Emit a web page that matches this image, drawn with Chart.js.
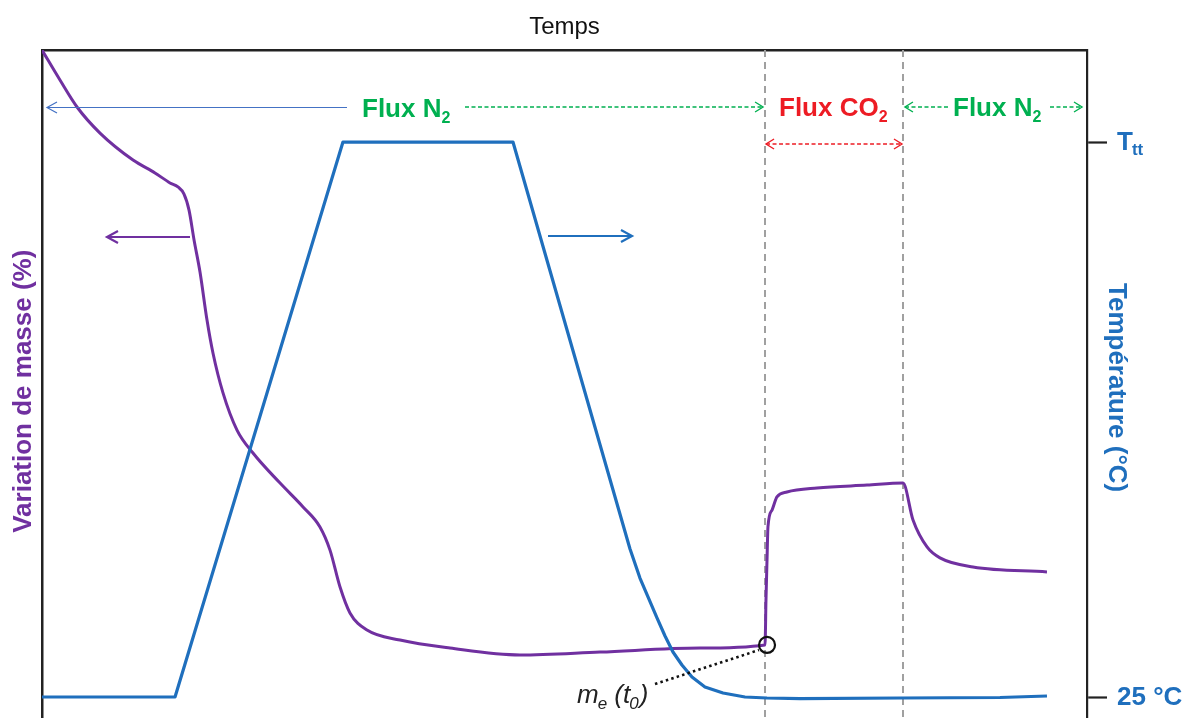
<!DOCTYPE html>
<html><head><meta charset="utf-8">
<script src="https://cdn.jsdelivr.net/npm/chart.js@4.4.1/dist/chart.umd.min.js"></script>
<style>html,body{margin:0;padding:0;background:#fff}#wrap{width:1184px;height:718px}</style>
</head><body><div id="wrap"><canvas id="c" width="1184" height="718"></canvas></div>
<script>
// ---- data (time in arbitrary units 0..100) ----
const massTime = [0, 1.72, 3.35, 5.55, 8.71, 10.81, 12.25, 13.01, 13.59, 14.07, 14.55, 15.12, 15.79, 16.36, 17.32, 18.66, 20.19, 22.78, 24.98, 26.60, 27.56, 28.52, 29.47, 31.10, 34.26, 39.04, 45.74, 53.40, 62.97, 69.19, 69.28, 69.38, 69.47, 69.86, 70.33, 71.29, 74.16, 78.95, 82.39, 83.35, 84.69, 85.93, 89.09, 96.17];
const massValues = [0, -1.35, -2.56, -3.73, -4.94, -5.52, -5.97, -6.15, -6.47, -7.19, -8.53, -9.97, -12.13, -13.61, -15.40, -17.07, -18.10, -19.45, -20.52, -21.42, -22.46, -24.12, -25.28, -26.05, -26.50, -26.86, -27.17, -27.04, -26.86, -26.72, -24.70, -22.90, -21.42, -20.66, -20.07, -19.85, -19.67, -19.54, -19.45, -21.11, -22.32, -22.81, -23.22, -23.44];
const tempTime = [0, 12.73, 28.80, 45.07, 56.27, 57.22, 57.99, 58.85, 59.62, 60.38, 61.24, 62.20, 63.44, 65.17, 67.27, 69.38, 72.54, 82.11, 91.67, 96.17];
const tempValues = [25, 25, 900, 900, 258.3, 212.6, 182.7, 149.6, 121.2, 95.9, 75.5, 56.5, 40.8, 31.3, 25, 23.4, 22.6, 23.4, 24.2, 26.6];
const tempTicks = [25, 900];
const tempTickMain = ['25 °C', 'T'];
const tempTickSub = ['', 'tt'];
const phaseBounds = [69.19, 82.39];
const markerTime = [69.38];
const markerMass = [-26.72];

const PURPLE = '#7030A0', BLUE = '#1F6FBD', GREEN = '#00B050', RED = '#ED1C24';
const FONT = "'Liberation Sans', Arial, sans-serif";

function txt(ctx, s, x, y, size, color, bold, italic) {
  ctx.font = (italic ? 'italic ' : '') + (bold ? 'bold ' : '') + size + 'px ' + FONT;
  ctx.fillStyle = color; ctx.textAlign = 'left'; ctx.textBaseline = 'alphabetic';
  ctx.fillText(s, x, y);
  return ctx.measureText(s).width;
}
function head(ctx, x, y, dir, len, half) {
  ctx.beginPath();
  ctx.moveTo(x - dir * len, y - half); ctx.lineTo(x, y); ctx.lineTo(x - dir * len, y + half);
  ctx.stroke();
}
function hArrow(ctx, x1, x2, y, color, lw, dash, startHead, endHead, len, half) {
  ctx.save();
  ctx.strokeStyle = color; ctx.lineWidth = lw;
  ctx.setLineDash(dash);
  ctx.beginPath(); ctx.moveTo(x1, y); ctx.lineTo(x2, y); ctx.stroke();
  ctx.setLineDash([]);
  const dir = x2 > x1 ? 1 : -1;
  if (endHead) head(ctx, x2, y, dir, len, half);
  if (startHead) head(ctx, x1, y, -dir, len, half);
  ctx.restore();
}

const annot = {
  id: 'annot',
  beforeDatasetsDraw(chart) {
    const {ctx, chartArea: a, scales: {x}} = chart;
    ctx.save();
    ctx.strokeStyle = '#A0A0A0'; ctx.lineWidth = 2; ctx.setLineDash([7, 5]);
    phaseBounds.forEach(t => {
      const px = Math.round(x.getPixelForValue(t));
      ctx.beginPath(); ctx.moveTo(px, a.top); ctx.lineTo(px, a.bottom); ctx.stroke();
    });
    ctx.restore();
  },
  afterDraw(chart) {
    const {ctx, scales: {x, y2}} = chart;
    const b1 = x.getPixelForValue(phaseBounds[0]), b2 = x.getPixelForValue(phaseBounds[1]);
    ctx.save();
    // phase annotations
    hArrow(ctx, 47, 347, 107.5, '#4472C4', 1.2, [], true, false, 10, 5.5);
    let w = txt(ctx, 'Flux N', 362, 117, 26, GREEN, true);
    txt(ctx, '2', 362 + w, 123, 16, GREEN, true);
    hArrow(ctx, 465, b1 - 2, 107, GREEN, 1.4, [4, 2.5], false, true, 8, 5);
    w = txt(ctx, 'Flux CO', 779, 116, 26, RED, true);
    txt(ctx, '2', 779 + w, 122, 16, RED, true);
    hArrow(ctx, b1 + 1, b2 - 1, 144, RED, 1.4, [4, 2.5], true, true, 8, 5);
    w = txt(ctx, 'Flux N', 953, 116, 26, GREEN, true);
    txt(ctx, '2', 953 + w, 122, 16, GREEN, true);
    hArrow(ctx, 948, b2 + 2, 107, GREEN, 1.4, [4, 2.5], false, true, 8, 5);
    hArrow(ctx, 1050, 1082, 107, GREEN, 1.4, [4, 2.5], false, true, 8, 5);
    // axis direction arrows
    hArrow(ctx, 190, 107, 237, PURPLE, 2.2, [], false, true, 11, 6);
    hArrow(ctx, 548, 632, 236, BLUE, 2.2, [], false, true, 11, 6);
    // m_e(t0) label
    ctx.save();
    ctx.strokeStyle = '#111'; ctx.lineWidth = 2.6; ctx.setLineDash([2.5, 3.2]);
    ctx.beginPath(); ctx.moveTo(655, 684); ctx.lineTo(759, 650); ctx.stroke();
    ctx.restore();
    let cx = 577;
    cx += txt(ctx, 'm', cx, 703, 26, '#222', false, true);
    cx += txt(ctx, 'e', cx - 1, 709, 17, '#222', false, true);
    cx += txt(ctx, ' (t', cx - 1, 703, 26, '#222', false, true);
    cx += txt(ctx, '0', cx - 2, 709, 17, '#222', false, true);
    txt(ctx, ')', cx - 1, 703, 26, '#222', false, true);
    // right axis tick labels
    tempTicks.forEach((v, i) => {
      const py = y2.getPixelForValue(v);
      const mw = txt(ctx, tempTickMain[i], 1117, py + 8, 26, BLUE, true);
      if (tempTickSub[i]) txt(ctx, tempTickSub[i], 1117 + mw - 1, py + 13, 17, BLUE, true);
    });
    ctx.restore();
  }
};

const mk = (xs, ys) => xs.map((t, i) => ({x: t, y: ys[i]}));

new Chart(document.getElementById('c'), {
  type: 'line',
  data: {
    datasets: [
      { type: 'scatter', data: mk(markerTime, markerMass), yAxisID: 'y', pointRadius: 8, pointHoverRadius: 8,
        pointBorderColor: '#111', pointBackgroundColor: 'rgba(0,0,0,0)', pointBorderWidth: 2.2, showLine: false },
      { data: mk(tempTime, tempValues), yAxisID: 'y2', borderColor: BLUE, borderWidth: 3.2, pointRadius: 0,
        tension: 0, fill: false, borderJoinStyle: 'round' },
      { data: mk(massTime, massValues), yAxisID: 'y', borderColor: PURPLE, borderWidth: 3, pointRadius: 0,
        cubicInterpolationMode: 'monotone', fill: false, borderJoinStyle: 'round' }
    ]
  },
  options: {
    responsive: false, animation: false, devicePixelRatio: 1,
    layout: { padding: 0, autoPadding: false },
    plugins: { legend: { display: false }, tooltip: { enabled: false }, title: { display: false } },
    events: [],
    scales: {
      x: {
        type: 'linear', position: 'top', min: 0, max: 100,
        ticks: { display: false }, grid: { display: false },
        border: { display: true, color: '#222', width: 2.5 },
        title: { display: true, text: 'Temps', color: '#111', font: { family: FONT, size: 24 }, padding: { top: 13, bottom: 0 } },
        afterFit(s) { s.height = 50; }
      },
      y: {
        position: 'left', min: -30, max: 0,
        ticks: { display: false }, grid: { display: false },
        border: { display: true, color: '#222', width: 2.5 },
        title: { display: true, text: 'Variation de masse (%)  ', color: PURPLE, font: { family: FONT, size: 26, weight: 'bold' }, padding: { top: 8.6, bottom: 0 } },
        afterFit(s) { s.width = 42; }
      },
      y2: {
        position: 'right', min: -8.1, max: 1045.1,
        afterBuildTicks(s) { s.ticks = tempTicks.map(v => ({ value: v })); },
        ticks: { display: false },
        grid: { display: true, drawOnChartArea: false, drawTicks: true, tickLength: 20, tickWidth: 2.2, tickColor: '#222' },
        border: { display: true, color: '#222', width: 2.2 },
        title: { display: true, text: ' Température (°C)', color: BLUE, font: { family: FONT, size: 26, weight: 'bold' }, padding: { top: 52.6, bottom: 0 } },
        afterFit(s) { s.width = 97; }
      }
    }
  },
  plugins: [annot]
});
</script></body></html>
